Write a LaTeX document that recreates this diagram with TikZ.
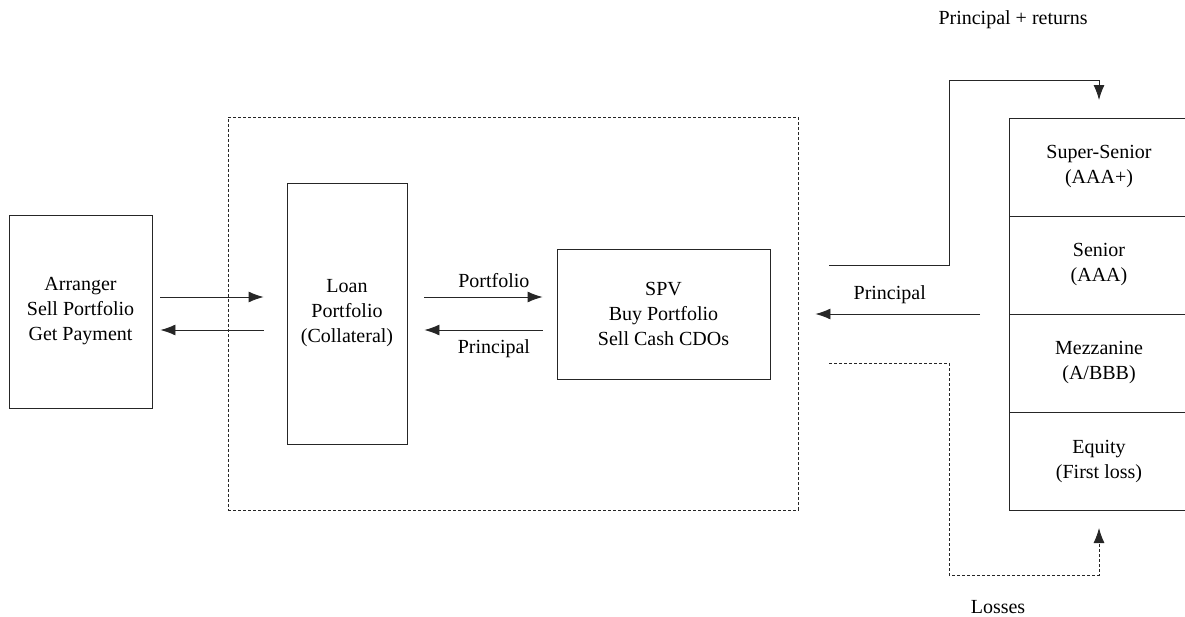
\documentclass[tikz,border=0pt]{standalone}
\usepackage{fontspec}
\setmainfont{Liberation Serif}
\usetikzlibrary{positioning,arrows.meta}

\begin{document}
\begin{tikzpicture}[x=1pt, y=-1pt, node distance=0pt,
  every node/.style={font=\fontsize{20}{25}\selectfont, align=center},
  box/.style={draw=black!85, line width=0.9pt, rectangle, inner sep=0pt},
  tranche/.style={box, outer sep=0pt, minimum width=180pt, minimum height=98pt},
  flow/.style={draw=black!85, line width=0.9pt, -{Latex[length=15pt,width=11pt]}},
  lossflow/.style={flow, dash pattern=on 3pt off 2pt}]
\useasboundingbox (0,0) rectangle (1185,616);

% Parties
\node[box, minimum width=143pt, minimum height=193pt] (arranger) at (80.5,311.5) {Arranger\\Sell Portfolio\\Get Payment};
\node[box, dash pattern=on 3pt off 2pt, minimum width=570pt, minimum height=393pt] (frame) at (513,313.5) {};
\node[box, minimum width=120pt, minimum height=261pt] (loan) at (347,313.5) {Loan\\Portfolio\\(Collateral)};
\node[box, minimum width=213pt, minimum height=130pt] (spv) at (663.5,314) {SPV\\Buy Portfolio\\Sell Cash CDOs};

% Tranches
\node[tranche] (super) at (1099,167) {Super-Senior\\(AAA+)};
\node[tranche, below=of super] (senior) {Senior\\(AAA)};
\node[tranche, below=of senior] (mezz) {Mezzanine\\(A/BBB)};
\node[tranche, below=of mezz] (equity) {Equity\\(First loss)};

% Corners of the return and loss lines
\coordinate (upturn) at (949,80);
\coordinate (downturn) at (949,575);

% Arrows
\draw[flow, shorten <=8pt, shorten >=23pt] ([yshift=14.5pt]arranger.east) -- ([yshift=14.5pt]arranger.east -| loan.west);
\draw[flow, shorten <=23pt, shorten >=8pt] ([yshift=-18.5pt]arranger.east -| loan.west) -- ([yshift=-18.5pt]arranger.east);
\draw[flow, shorten <=17pt, shorten >=14pt] ([yshift=16.5pt]loan.east) -- node[above=6pt, pos=0.58] {Portfolio} ([yshift=16.5pt]loan.east -| spv.west);
\draw[flow, shorten <=14pt, shorten >=17pt] ([yshift=-16.5pt]loan.east -| spv.west) -- node[below=6pt, pos=0.42] {Principal} ([yshift=-16.5pt]loan.east);
\draw[flow, shorten <=29pt, shorten >=45pt] (senior.south west) -- node[above=6pt] {Principal} (senior.south west -| spv.east);
\draw[flow, shorten >=18pt] ([xshift=59pt,yshift=49pt]spv.east) -| (upturn) -| (super.north);
\draw[lossflow, shorten >=18pt] ([xshift=59pt,yshift=-49pt]spv.east) -| (downturn) -| (equity.south);

% Labels
\node (returns) at (1013,20) {Principal + returns};
\node (losses) at (998,607) {Losses};
\end{tikzpicture}
\end{document}
